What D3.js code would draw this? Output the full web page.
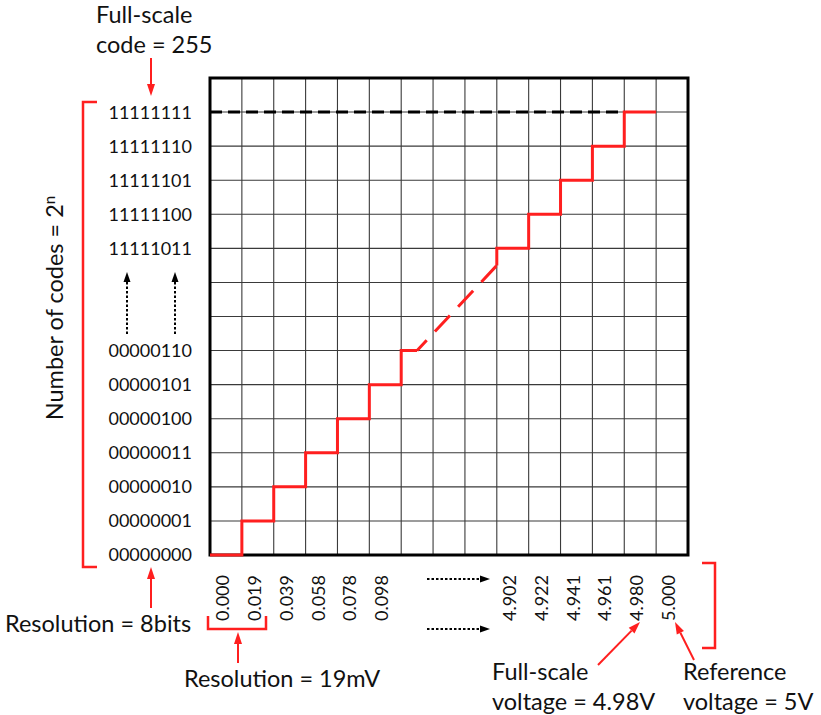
<!DOCTYPE html>
<html>
<head>
<meta charset="utf-8">
<script src="https://cdn.jsdelivr.net/npm/d3@7"></script>
<style>
  html, body { margin: 0; padding: 0; background: #fff; }
  svg { display: block; }
  text { font-family: Lato, "Open Sans", sans-serif; fill: #111; }
</style>
</head>
<body>
<script>
// ---------- data ----------
const codeValues = [0, 1, 2, 3, 4, 5, 6, 251, 252, 253, 254, 255];
const codeLabels = ["00000000", "00000001", "00000010", "00000011", "00000100", "00000101", "00000110",
                    "11111011", "11111100", "11111101", "11111110", "11111111"];
const voltageCodes = [0, 1, 2, 3, 4, 5, 251, 252, 253, 254, 255, 256];
const voltageLabels = ["0.000", "0.019", "0.039", "0.058", "0.078", "0.098",
                       "4.902", "4.922", "4.941", "4.961", "4.980", "5.000"];
const lowCodes = [0, 1, 2, 3, 4, 5, 6];
const highCodes = [251, 252, 253, 254, 255];
const fullScaleCode = 255;
const annotations = {
  fullScaleCode: ["Full-scale", "code = 255"],
  resolutionBits: "Resolution = 8bits",
  resolutionMv: "Resolution = 19mV",
  fullScaleVoltage: ["Full-scale", "voltage = 4.98V"],
  referenceVoltage: ["Reference", "voltage = 5V"],
  codes: "Number of codes = 2"
};

// ---------- layout ----------
const W = 821, H = 715;
const pL = 210, pR = 688, pT = 78, pB = 555;
const nCols = 15, nRows = 14;
const colW = (pR - pL) / nCols, rowH = (pB - pT) / nRows;

// broken axes: codes 6..251 compressed into 3 slots
const xSlot = d3.scaleLinear().domain([0, 6, 251, 257]).range([0, 6, 9, 15]);
const ySlot = d3.scaleLinear().domain([0, 6, 251, 256]).range([0, 6, 9, 14]);
const xPix = d3.scaleLinear().domain([0, nCols]).range([pL, pR]);
const yPix = d3.scaleLinear().domain([0, nRows]).range([pB, pT]);
const X = c => xPix(xSlot(c));
const Y = c => yPix(ySlot(c));

const RED = "#ff1f1f";

const svg = d3.select("body").append("svg").attr("width", W).attr("height", H);

// ---------- grid ----------
const grid = svg.append("g");
grid.selectAll("line.v").data(d3.range(1, nCols)).join("line")
  .attr("x1", d => xPix(d)).attr("x2", d => xPix(d))
  .attr("y1", pT).attr("y2", pB)
  .attr("stroke", "#3a3a3a").attr("stroke-width", 1.1);
grid.selectAll("line.h").data(d3.range(1, nRows)).join("line")
  .attr("y1", d => yPix(d)).attr("y2", d => yPix(d))
  .attr("x1", pL).attr("x2", pR)
  .attr("stroke", "#3a3a3a").attr("stroke-width", 1.1);

// dashed full-scale line
svg.append("line")
  .attr("x1", X(0)).attr("x2", X(fullScaleCode))
  .attr("y1", Y(fullScaleCode)).attr("y2", Y(fullScaleCode))
  .attr("stroke", "#000").attr("stroke-width", 3)
  .attr("stroke-dasharray", "12,6");

// border
svg.append("rect")
  .attr("x", pL).attr("y", pT).attr("width", pR - pL).attr("height", pB - pT)
  .attr("fill", "none").attr("stroke", "#000").attr("stroke-width", 3);

// ---------- staircase ----------
const lowPath = d3.path();
lowPath.moveTo(X(lowCodes[0]), Y(lowCodes[0]));
lowCodes.slice(0, -1).forEach(c => {
  lowPath.lineTo(X(c + 1), Y(c));
  lowPath.lineTo(X(c + 1), Y(c + 1));
});
const lastLow = lowCodes[lowCodes.length - 1];
const brkStartX = X(lastLow) + colW / 2, brkStartY = Y(lastLow);
lowPath.lineTo(brkStartX, brkStartY);

const firstHigh = highCodes[0];
const brkEndX = X(firstHigh), brkEndY = Y(firstHigh) + rowH / 2;
const highPath = d3.path();
highPath.moveTo(brkEndX, brkEndY);
highPath.lineTo(X(firstHigh), Y(firstHigh));
highCodes.slice(0, -1).forEach(c => {
  highPath.lineTo(X(c + 1), Y(c));
  highPath.lineTo(X(c + 1), Y(c + 1));
});
const lastHigh = highCodes[highCodes.length - 1];
highPath.lineTo(X(lastHigh + 1), Y(lastHigh));

svg.append("path").attr("d", lowPath.toString())
  .attr("fill", "none").attr("stroke", RED).attr("stroke-width", 3);
svg.append("path").attr("d", highPath.toString())
  .attr("fill", "none").attr("stroke", RED).attr("stroke-width", 3);
svg.append("line")
  .attr("x1", brkStartX).attr("y1", brkStartY).attr("x2", brkEndX).attr("y2", brkEndY)
  .attr("stroke", RED).attr("stroke-width", 3)
  .attr("stroke-dasharray", "22,12").attr("stroke-dashoffset", 8);

// ---------- axis labels ----------
svg.append("g").selectAll("text").data(codeValues).join("text")
  .attr("x", 192).attr("y", d => Y(d)).attr("dy", "0.36em")
  .attr("text-anchor", "end").attr("font-size", 18)
  .text((d, i) => codeLabels[i]);

svg.append("g").selectAll("text").data(voltageCodes).join("text")
  .attr("transform", d => `translate(${X(d) + 19},575) rotate(-90)`)
  .attr("text-anchor", "end").attr("font-size", 18)
  .text((d, i) => voltageLabels[i]);

// ---------- helpers ----------
function arrow(x1, y1, x2, y2, color, opts = {}) {
  const len = opts.head || 11, wid = opts.width || 8;
  const ang = Math.atan2(y2 - y1, x2 - x1);
  const bx = x2 - len * Math.cos(ang), by = y2 - len * Math.sin(ang);
  const g = svg.append("g");
  g.append("line").attr("x1", x1).attr("y1", y1).attr("x2", bx).attr("y2", by)
    .attr("stroke", color).attr("stroke-width", opts.sw || 2)
    .attr("stroke-dasharray", opts.dash || null);
  const px = -Math.sin(ang) * wid / 2, py = Math.cos(ang) * wid / 2;
  g.append("path")
    .attr("d", `M${x2},${y2}L${bx + px},${by + py}L${bx - px},${by - py}Z`)
    .attr("fill", color);
}

// dotted continuation arrows
[127, 175].forEach(xx => arrow(xx, 334, xx, 272, "#000", { dash: "2.5,2", sw: 2, head: 10, width: 7 }));
[579, 629].forEach(yy => arrow(427, yy, 490, yy, "#000", { dash: "2.5,2", sw: 2, head: 10, width: 7 }));

// red annotation arrows
arrow(151, 58, 151, 96, RED, { sw: 2, head: 12, width: 8 });
arrow(151, 608, 151, 567, RED, { sw: 2, head: 12, width: 8 });
arrow(238, 663, 238, 632, RED, { sw: 2, head: 12, width: 8 });
arrow(598, 665, 640, 622, RED, { sw: 2, head: 12, width: 8 });
arrow(694, 660, 675, 622, RED, { sw: 2, head: 12, width: 8 });

// brackets
const br = (d) => svg.append("path").attr("d", d).attr("fill", "none")
  .attr("stroke", RED).attr("stroke-width", 2.5);
br("M97,102H83V567H97");
br("M208,616V629H266V616");
br("M702,563H715V648H702");

// ---------- annotation texts ----------
const big = 23.5;
function multi(x, ys, lines) {
  lines.forEach((t, i) => svg.append("text").attr("x", x).attr("y", ys[i])
    .attr("font-size", big).text(t));
}
multi(96, [23, 53], annotations.fullScaleCode);
svg.append("text").attr("x", 5).attr("y", 632).attr("font-size", big).text(annotations.resolutionBits);
svg.append("text").attr("x", 184).attr("y", 687).attr("font-size", big).text(annotations.resolutionMv);
multi(492, [680, 710], annotations.fullScaleVoltage);
multi(683, [680, 710], annotations.referenceVoltage);

const yt = svg.append("text")
  .attr("transform", "translate(63,308) rotate(-90)")
  .attr("text-anchor", "middle").attr("font-size", big);
yt.append("tspan").text(annotations.codes);
yt.append("tspan").attr("dy", "-0.55em").attr("font-size", 15).text("n");
</script>
</body>
</html>
